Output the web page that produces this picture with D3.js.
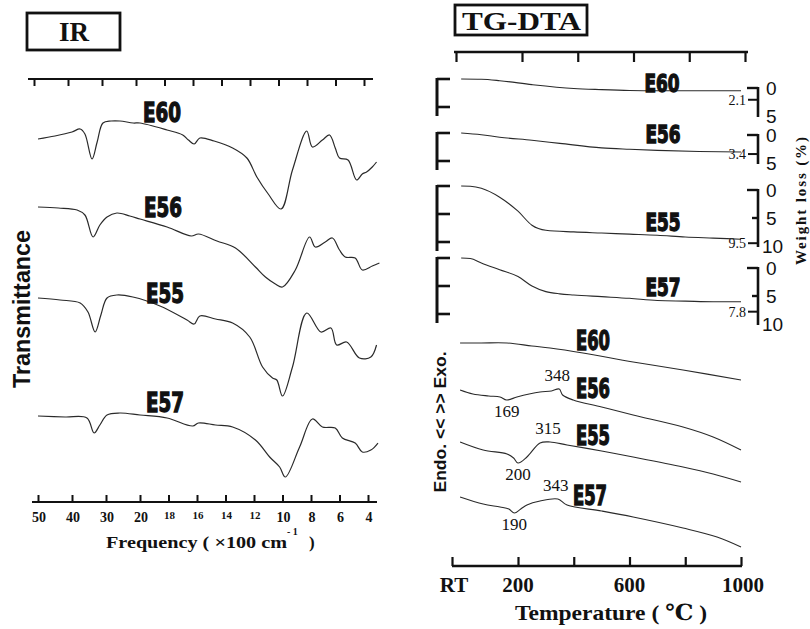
<!DOCTYPE html>
<html>
<head>
<meta charset="utf-8">
<script src="https://cdn.jsdelivr.net/npm/d3@7"></script>
<style>
  body { margin: 0; background: #fff; }
  svg { display: block; }
</style>
</head>
<body>
<svg id="fig" width="810" height="629"></svg>
<script>
// ---------------- data ----------------
// IR spectra: wavenumber (x100 cm^-1) vs. transmittance (a.u., traces offset)
const irFreqTicks = [50, 40, 30, 20, 18, 16, 14, 12, 10, 8, 6, 4];
const irSamples = ["E60", "E56", "E55", "E57"];
const irE60 = [[50,361],[45,364],[40,368],[37.6,371],[36.2,366],[34.1,341],[32.6,358],[30.9,377],[28.5,379],[25.9,379],[22,377],[20,377],[18.1,370],[17,365],[16.6,360],[16.2,356],[15.8,362],[14.8,359],[13.5,352],[12.5,342],[11.8,323],[11,306],[10.1,291],[9.3,330],[8.3,369],[7.9,353],[7.2,360],[6.7,365],[6.3,352],[6.0,342],[5.4,340],[4.8,320],[4.4,326],[4.1,328],[3.7,333],[3.4,338]];
const irE56 = [[50,293],[44,292],[38.5,290],[36.2,285],[33.8,263],[31.8,275],[29.7,283],[26.8,287],[23,284],[20,281],[18.1,273],[16.4,264],[15.9,266],[14.6,259],[13.3,252],[11.9,233],[11.2,223],[10.5,216],[10.0,213],[9.1,230],[8.1,263],[7.7,253],[7.0,258],[6.5,262],[6.0,250],[5.6,243],[4.9,242],[4.4,230],[3.7,234],[3.2,237]];
const irE55 = [[50,202],[43.5,200],[37.6,197],[35.3,188],[33.2,168],[31.5,185],[29.7,202],[26.8,205],[22.1,203],[18.6,194],[16.7,180],[16.2,176],[15.8,184],[14.7,181],[13.5,177],[12.3,163],[11.4,133],[10.7,122],[10.4,120],[10.0,104],[9.3,133],[8.3,187],[7.3,168],[6.6,172],[6.2,155],[5.5,158],[4.6,142],[3.8,143],[3.4,155]];
const irE57 = [[50,84],[42,83],[35.6,82],[33.5,67],[31.8,75],[29.7,85],[25.9,87],[20,85],[18.1,82],[16.3,74],[15.9,77],[14.7,75],[13.5,73],[11.9,60],[10.9,43],[10.2,33],[9.8,23],[8.8,53],[7.9,81],[7.2,73],[6.3,72],[5.8,62],[4.9,57],[4.4,48],[3.8,50],[3.3,57]];
const irSeries = [irE60, irE56, irE55, irE57];

// TG: temperature (°C) vs. weight loss (%)
const tgSamples = ["E60", "E56", "E55", "E57"];
const tgTotalLoss = [2.1, 3.4, 9.5, 7.8];
const tgScaleMax = [5, 5, 10, 10];
const tgE60 = [[45,0],[100,0.05],[150,0.3],[250,1.0],[400,1.7],[500,1.9],[600,2.05],[700,2.1],[1000,2.1]];
const tgE56 = [[45,0],[100,0.3],[150,0.75],[250,1.3],[350,1.85],[500,2.65],[600,2.9],[700,3.1],[850,3.3],[1000,3.4]];
const tgE55 = [[45,0],[70,0.05],[100,0.4],[150,2.0],[200,4.5],[250,7.0],[300,7.9],[400,8.2],[500,8.4],[600,8.6],[700,8.8],[800,9.1],[900,9.3],[1000,9.5]];
const tgE57 = [[45,0],[70,0.1],[100,0.9],[150,2.1],[200,3.3],[250,5.0],[300,6.0],[350,6.4],[400,6.6],[500,6.9],[600,7.2],[700,7.6],[800,7.7],[900,7.8],[1000,7.8]];
const tgSeries = [tgE60, tgE56, tgE55, tgE57];

// DTA: temperature (°C) vs. signal (a.u., exo up, traces offset)
const dtaSamples = ["E60", "E56", "E55", "E57"];
const dtaE60 = [[42,0],[100,0],[170,0],[250,-3],[315,-5],[433,-10],[613,-19],[792,-27],[1000,-37]];
const dtaE56 = [[42,-47],[77,-51],[120,-53],[151,-54],[169,-57],[197,-54],[240,-51],[279,-49],[320,-48],[348,-46],[360,-52],[398,-57],[500,-64],[613,-72],[792,-84],[900,-94],[1000,-107]];
const dtaE55 = [[42,-99],[105,-107],[170,-111],[188,-115],[200,-120],[232,-114],[279,-100],[315,-99],[376,-102],[500,-108],[613,-114],[792,-124],[900,-131],[1000,-139]];
const dtaE57 = [[42,-154],[105,-161],[151,-164],[175,-166],[190,-170],[210,-166],[232,-162],[279,-158],[343,-156],[376,-162],[500,-168],[613,-174],[792,-185],[914,-194],[1000,-204]];
const dtaSeries = [dtaE60, dtaE56, dtaE55, dtaE57];
const dtaPeaks = [
  { s: 1, t: 169, kind: "endo" }, { s: 1, t: 348, kind: "exo" },
  { s: 2, t: 200, kind: "endo" }, { s: 2, t: 315, kind: "exo" },
  { s: 3, t: 190, kind: "endo" }, { s: 3, t: 343, kind: "exo" }
];

// temperature axis
const tempTicks = [20, 200, 400, 600, 800, 1000];
const tempLabels = { 20: "RT", 200: "200", 600: "600", 1000: "1000" };

// ---------------- drawing ----------------
const svg = d3.select("#fig");
const INK = "#111";
const TRACE = "#2a2a2a";
const SERIF = "'Liberation Serif','DejaVu Serif',serif";
const SANS = "'Liberation Sans','DejaVu Sans',sans-serif";
const NARROW = "'Liberation Sans Narrow','DejaVu Sans Condensed','Liberation Sans',sans-serif";

// bold condensed sample tag
function tag(g, cx, baseline, text, size, width) {
  g.append("text")
    .attr("x", cx - width / 2).attr("y", baseline)
    .attr("textLength", width).attr("lengthAdjust", "spacingAndGlyphs")
    .attr("font-family", NARROW).attr("font-weight", "bold")
    .attr("font-size", size).attr("fill", INK)
    .attr("stroke", INK).attr("stroke-width", 1.3)
    .text(text);
}

// ===== IR panel =====
const ir = svg.append("g");
ir.append("rect").attr("x", 27).attr("y", 13).attr("width", 93).attr("height", 37)
  .attr("fill", "none").attr("stroke", INK).attr("stroke-width", 2.8);
ir.append("text").attr("x", 74).attr("y", 41).attr("text-anchor", "middle")
  .attr("font-family", SERIF).attr("font-weight", "bold").attr("font-size", 27)
  .attr("fill", INK).text("IR");

const xIR = d3.scaleLinear().domain([50, 20, 4]).range([38, 140, 368]);
const yIR = d3.scaleLinear().domain([0, 400]).range([500, 100]);

// top frame axis
const irTop = ir.append("g").attr("transform", "translate(-4,79)")
  .call(d3.axisBottom(xIR).tickValues(irFreqTicks).tickSize(7).tickFormat(""));
irTop.select(".domain").attr("d", "M32,0H377");
// bottom frequency axis
const irBot = ir.append("g").attr("transform", "translate(0,502)")
  .call(d3.axisTop(xIR).tickValues(irFreqTicks).tickSize(7).tickFormat(""));
irBot.select(".domain").attr("d", "M32,0H377");
[irTop, irBot].forEach(a => {
  a.select(".domain").attr("stroke", INK).attr("stroke-width", 2.2);
  a.selectAll(".tick line").attr("stroke", INK).attr("stroke-width", 2);
});
ir.append("g").selectAll("text").data(irFreqTicks).join("text")
  .attr("x", d => xIR(d) + 1)
  .attr("y", d => (d >= 12 && d <= 18) ? 519 : 522)
  .attr("text-anchor", "middle")
  .attr("font-family", SERIF).attr("font-weight", "bold")
  .attr("font-size", d => (d >= 12 && d <= 18) ? 11 : 14)
  .attr("fill", INK).text(d => d);

const freqTitle = ir.append("g").attr("font-family", SERIF).attr("font-weight", "bold").attr("fill", INK);
freqTitle.append("text").attr("x", 106).attr("y", 548).attr("font-size", 17)
  .attr("textLength", 181).attr("lengthAdjust", "spacingAndGlyphs").text("Frequency ( ×100 cm");
freqTitle.append("text").attr("x", 287).attr("y", 535).attr("font-size", 10).text("- 1");
freqTitle.append("text").attr("x", 309).attr("y", 548).attr("font-size", 17).text(")");

ir.append("text").attr("transform", "translate(30,309) rotate(-90)")
  .attr("text-anchor", "middle").attr("font-family", SANS).attr("font-weight", "bold")
  .attr("font-size", 24).attr("textLength", 158).attr("lengthAdjust", "spacingAndGlyphs")
  .attr("fill", INK).text("Transmittance");

const irLine = d3.line().x(d => xIR(d[0])).y(d => yIR(d[1])).curve(d3.curveCatmullRom.alpha(0.5));
ir.append("g").selectAll("path").data(irSeries).join("path")
  .attr("d", irLine).attr("fill", "none").attr("stroke", TRACE).attr("stroke-width", 1.2);

const irTagPos = [[162, 122], [163, 217], [165, 303], [165, 412]];
irSamples.forEach((s, i) => tag(ir, irTagPos[i][0], irTagPos[i][1], s, 27, 38));

// ===== TG-DTA panel =====
const tg = svg.append("g");
tg.append("rect").attr("x", 455).attr("y", 5).attr("width", 132).attr("height", 30)
  .attr("fill", "none").attr("stroke", INK).attr("stroke-width", 2.8);
tg.append("text").attr("x", 462).attr("y", 30)
  .attr("font-family", SERIF).attr("font-weight", "bold").attr("font-size", 26)
  .attr("textLength", 119).attr("lengthAdjust", "spacingAndGlyphs")
  .attr("fill", INK).text("TG-DTA");

const xT = d3.scaleLinear().domain([20, 200, 1000]).range([452, 518, 741]);

const tTop = tg.append("g").attr("transform", "translate(4,52)")
  .call(d3.axisBottom(xT).tickValues(tempTicks).tickSize(10).tickFormat(""));
tTop.select(".domain").attr("d", "M450,0H744");
const tBot = tg.append("g").attr("transform", "translate(0,566)")
  .call(d3.axisTop(xT).tickValues(tempTicks).tickSize(9).tickFormat(""));
tBot.select(".domain").attr("d", "M452,0H742");
[tTop, tBot].forEach(a => {
  a.select(".domain").attr("stroke", INK).attr("stroke-width", 2.4);
  a.selectAll(".tick line").attr("stroke", INK).attr("stroke-width", 2.2);
});
tg.append("g").selectAll("text").data(tempTicks.filter(t => tempLabels[t])).join("text")
  .attr("x", d => xT(d) + (d === 20 ? 2 : 0) + (d === 1000 ? 2 : 0)).attr("y", 592)
  .attr("text-anchor", "middle").attr("font-family", SERIF).attr("font-weight", "bold")
  .attr("font-size", 21).attr("fill", INK).text(d => tempLabels[d]);
tg.append("text").attr("x", 515).attr("y", 620)
  .attr("font-family", SERIF).attr("font-weight", "bold").attr("font-size", 22)
  .attr("textLength", 192).attr("lengthAdjust", "spacingAndGlyphs")
  .attr("fill", INK).text("Temperature ( ℃ )");

// TG rows: each trace has its own weight-loss scale
const tgRowTop = [79, 133, 186, 258];   // 0 % level, left side
const tgRightShift = [9, 2, 4, 10];     // 0 % level shift of the right-hand scale
const K = 5.6; // px per percent
const tgLine = d3.line().curve(d3.curveMonotoneX);
tgSeries.forEach((data, i) => {
  const top = tgRowTop[i];
  const yL = d3.scaleLinear().domain([0, 10]).range([top, top + 10 * K]);
  const r0 = top + tgRightShift[i];
  const yR = d3.scaleLinear().domain([0, 10]).range([r0, r0 + 10 * K]);
  const max = tgScaleMax[i];
  const row = tg.append("g");
  row.append("path")
    .attr("d", tgLine.x(d => xT(d[0])).y(d => yL(d[1]))(data))
    .attr("fill", "none").attr("stroke", TRACE).attr("stroke-width", 1.1);

  // left bracket
  const lt = d3.range(0, max + 1, 5);
  row.append("line").attr("x1", 437).attr("x2", 437)
    .attr("y1", yL(0) - 1).attr("y2", yL(max) + 9)
    .attr("stroke", INK).attr("stroke-width", 3);
  row.selectAll("line.lt").data(lt).join("line").attr("class", "lt")
    .attr("x1", 437).attr("x2", 450).attr("y1", d => yL(d)).attr("y2", d => yL(d))
    .attr("stroke", INK).attr("stroke-width", 2.6);

  // right bracket with total loss
  row.append("line").attr("x1", 758).attr("x2", 758)
    .attr("y1", yR(0) - 1).attr("y2", yR(max) + 1)
    .attr("stroke", INK).attr("stroke-width", 2.6);
  row.selectAll("line.rt").data(lt.slice(0, lt.length - 1)).join("line").attr("class", "rt")
    .attr("x1", d => d === 0 ? 747 : 752).attr("x2", 758)
    .attr("y1", d => yR(d)).attr("y2", d => yR(d))
    .attr("stroke", INK).attr("stroke-width", 2.4);
  row.append("line").attr("x1", 748).attr("x2", 758)
    .attr("y1", yR(tgTotalLoss[i])).attr("y2", yR(tgTotalLoss[i]))
    .attr("stroke", INK).attr("stroke-width", 2);
  row.selectAll("text.rl").data(lt).join("text").attr("class", "rl")
    .attr("x", d => d === 10 ? 762 : 766).attr("y", d => yR(d) + 7)
    .attr("font-family", SANS).attr("font-size", 19).attr("fill", INK)
    .text(d => d);
  row.append("text").attr("x", 746).attr("y", yR(tgTotalLoss[i]) + 5)
    .attr("text-anchor", "end").attr("font-family", SERIF).attr("font-size", 14)
    .attr("fill", INK).text(tgTotalLoss[i]);
});
const tgTagPos = [[662, 92], [663, 143], [663, 231], [663, 296]];
tgSamples.forEach((s, i) => tag(tg, tgTagPos[i][0], tgTagPos[i][1], s, 24, 35));

tg.append("text").attr("transform", "translate(806,201) rotate(-90)")
  .attr("text-anchor", "middle").attr("font-family", SERIF).attr("font-weight", "bold")
  .attr("font-size", 15).attr("textLength", 128).attr("lengthAdjust", "spacing")
  .attr("fill", INK).text("Weight loss (%)");

// DTA traces
const yD = d3.scaleLinear().domain([0, -200]).range([343, 543]);
const dtaLine = d3.line().x(d => xT(d[0])).y(d => yD(d[1])).curve(d3.curveCatmullRom.alpha(0.5));
tg.append("g").selectAll("path").data(dtaSeries).join("path")
  .attr("d", dtaLine).attr("fill", "none").attr("stroke", TRACE).attr("stroke-width", 1.1);

function signalAt(series, t) {
  const p = series.find(d => d[0] === t);
  return p ? p[1] : 0;
}
tg.append("g").selectAll("text").data(dtaPeaks).join("text")
  .attr("x", d => xT(d.t) + (d.kind === "exo" ? -2 : 0))
  .attr("y", d => yD(signalAt(dtaSeries[d.s], d.t)) + (d.kind === "exo" ? -8 : 17))
  .attr("text-anchor", "middle").attr("font-family", SERIF).attr("font-size", 17)
  .attr("fill", INK).text(d => d.t);

const dtaTagPos = [[593, 350], [593, 398], [593, 445], [590, 505]];
dtaSamples.forEach((s, i) => tag(tg, dtaTagPos[i][0], dtaTagPos[i][1], s, 26, 34));

tg.append("text").attr("transform", "translate(446,422) rotate(-90)")
  .attr("text-anchor", "middle").attr("font-family", SANS).attr("font-weight", "bold")
  .attr("font-size", 16).attr("textLength", 141).attr("lengthAdjust", "spacingAndGlyphs")
  .attr("fill", INK).text("Endo. << >> Exo.");
</script>
</body>
</html>
